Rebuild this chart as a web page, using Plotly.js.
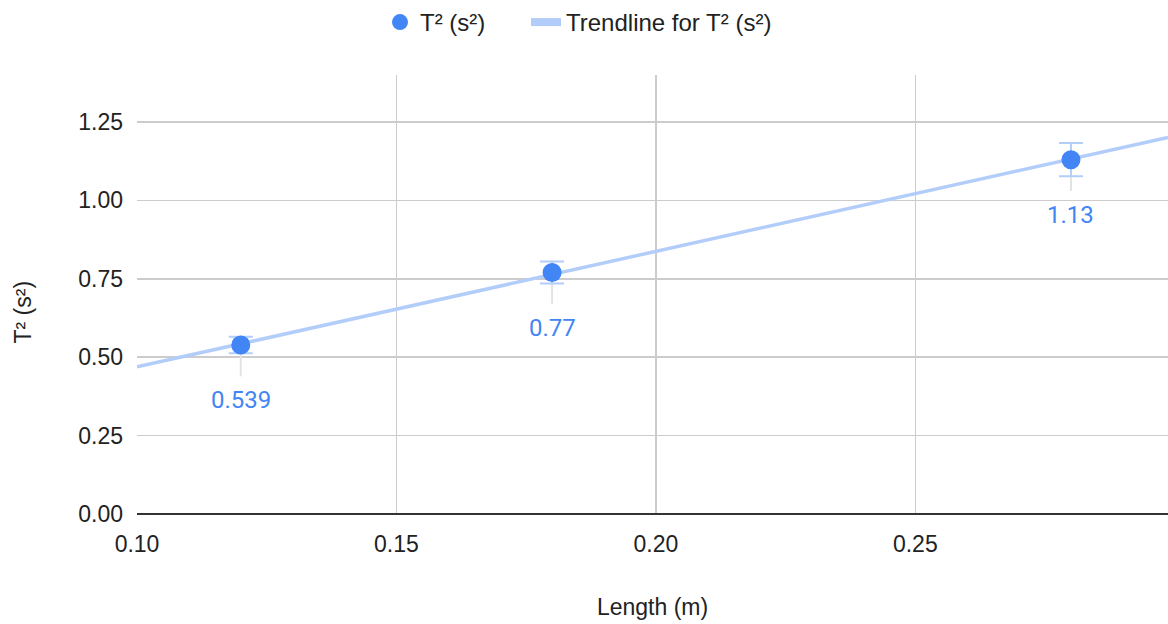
<!DOCTYPE html>
<html><head><meta charset="utf-8">
<script src="https://cdn.plot.ly/plotly-3.0.1.min.js"></script>
<style>html,body{margin:0;padding:0;background:#fff}#chart{width:1168px;height:624px}</style>
</head><body><div id="chart"></div>
<script>
const lengths = [0.12, 0.18, 0.28];
const tSquared = [0.539, 0.77, 1.13];
const errPlus = [0.026, 0.035, 0.053];
const errGreyMinus = [0.10, 0.10, 0.10];
const labels = ['0.539', '0.77', '1.13'];
const xTicks = [0.10, 0.15, 0.20, 0.25];
const xTickText = ['0.10', '0.15', '0.20', '0.25'];
const yTicks = [0, 0.25, 0.5, 0.75, 1.0, 1.25];
const yTickText = ['0.00', '0.25', '0.50', '0.75', '1.00', '1.25'];
const xRange = [0.1, 0.2987];

// least-squares trendline from the data
const n = lengths.length;
const mx = lengths.reduce((a,b)=>a+b,0)/n;
const my = tSquared.reduce((a,b)=>a+b,0)/n;
let sxy=0, sxx=0;
for (let i=0;i<n;i++){sxy+=(lengths[i]-mx)*(tSquared[i]-my); sxx+=(lengths[i]-mx)**2;}
const slope = sxy/sxx, icpt = my - slope*mx;
const trendX = [xRange[0], xRange[1]];
const trendY = trendX.map(x=>icpt+slope*x);

const blue = '#4285f4';
const lightBlue = '#b3cdfa';
const font = 'Arial, "Liberation Sans", sans-serif';

const traces = [
  {x: lengths, y: tSquared, type:'scatter', mode:'markers', showlegend:false, hoverinfo:'skip',
   marker:{size:1, color:'rgba(0,0,0,0)'},
   error_y:{type:'data', symmetric:false, array:[0,0,0], arrayminus:errGreyMinus, color:'#e3e3e3', thickness:2, width:0}},
  {x: trendX, y: trendY, type:'scatter', mode:'lines', showlegend:false,
   line:{color:lightBlue, width:3.5}, hoverinfo:'skip'},
  {x: [null], y: [null], type:'scatter', mode:'lines', name:'Trendline for T² (s²)', legend:'legend2',
   line:{color:lightBlue, width:8}},
  {x: lengths, y: tSquared, type:'scatter', mode:'markers', name:'T² (s²)', legend:'legend',
   marker:{size:19, color:blue},
   error_y:{type:'data', array:errPlus, color:lightBlue, thickness:2, width:12}}
];

const annotations = lengths.map((x,i)=>({x:x, y:tSquared[i], xref:'x', yref:'y', text:labels[i],
  showarrow:false, yshift:-55, font:{family:'Roboto, Arial, sans-serif', size:24, color:blue}}));
annotations.push({x:0, y:0.5, xref:'paper', yref:'paper', xanchor:'center', yanchor:'middle',
  xshift:-115, yshift:-18, textangle:-90, showarrow:false, text:'T² (s²)',
  font:{family:font, size:23, color:'#222'}});

const legFont = {family:font, size:24, color:'#222'};
const layout = {
  width:1168, height:624,
  margin:{l:137, r:0, t:75, b:110},
  paper_bgcolor:'#fff', plot_bgcolor:'#fff',
  font:{family:font, size:23, color:'#222'},
  showlegend:true,
  legend:{orientation:'h', x:380/1168, xref:'container', xanchor:'left', y:1, yref:'container', yanchor:'top', font:legFont},
  legend2:{orientation:'h', x:526/1168, xref:'container', xanchor:'left', y:1, yref:'container', yanchor:'top', font:legFont},
  xaxis:{range:xRange, tickvals:xTicks, ticktext:xTickText, showgrid:true, gridcolor:'#cccccc', gridwidth:1.5,
         zeroline:false, showline:false, ticks:'', tickfont:{size:23, color:'#222'}, ticklabelstandoff:14,
         title:{text:'Length (m)', font:{size:23, color:'#222'}, standoff:42}},
  yaxis:{range:[0,1.4], tickvals:yTicks, ticktext:yTickText, showgrid:true, gridcolor:'#cccccc', gridwidth:1.5,
         zeroline:true, zerolinecolor:'#333', zerolinewidth:2, showline:false, ticks:'', ticklen:0,
         tickfont:{size:23, color:'#222'}, ticklabelstandoff:13},
  annotations: annotations
};
Plotly.newPlot('chart', traces, layout, {displayModeBar:false, staticPlot:true});
</script></body></html>
